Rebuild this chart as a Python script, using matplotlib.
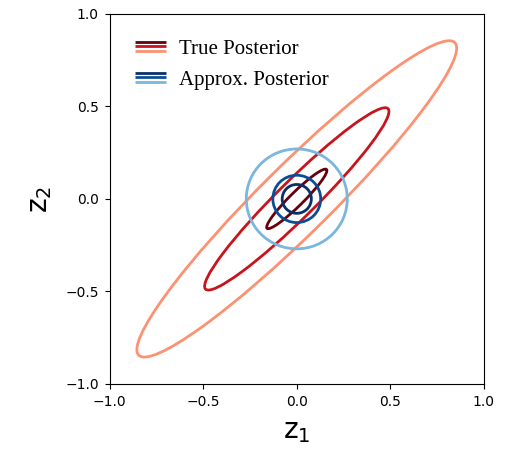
import numpy as np
import matplotlib.pyplot as plt
from matplotlib.patches import Ellipse, Circle
from matplotlib.lines import Line2D
from matplotlib.legend_handler import HandlerBase

# True posterior: correlated Gaussian contours (semi-major / semi-minor, angle 45 deg)
true_semi_major = [0.225, 0.69, 1.195]
true_semi_minor = [0.036, 0.10, 0.186]
true_colors = ['#67000d', '#c8141c', '#fc9272']

# Approximate posterior: isotropic Gaussian contours (radii)
approx_radii = [0.078, 0.128, 0.27]
approx_colors = ['#08306b', '#0b4d94', '#7bb6dc']

legend_labels = ['True Posterior', 'Approx. Posterior']


class ThreeLineHandler(HandlerBase):
    def __init__(self, colors):
        super().__init__()
        self.colors = colors

    def create_artists(self, legend, orig_handle, xdescent, ydescent,
                       width, height, fontsize, trans):
        artists = []
        gap = 3.4
        mid = height / 2 - ydescent
        for i, c in enumerate(self.colors):
            y = mid + gap * (1 - i)
            ln = Line2D([-xdescent, -xdescent + width], [y, y], color=c,
                        lw=2, transform=trans, solid_capstyle='butt')
            artists.append(ln)
        return artists


fig = plt.figure(figsize=(5.13, 4.5), dpi=100)
ax = fig.add_axes([0.214, 0.147, 0.729, 0.822])

for a, b, c in zip(true_semi_major, true_semi_minor, true_colors):
    ax.add_patch(Ellipse((0, 0), 2 * a, 2 * b, angle=45, fill=False,
                         edgecolor=c, lw=2))

for r, c in zip(approx_radii, approx_colors):
    ax.add_patch(Circle((0, 0), r, fill=False, edgecolor=c, lw=2))

ax.set_xlim(-1, 1)
ax.set_ylim(-1, 1)
ax.set_xticks([-1.0, -0.5, 0.0, 0.5, 1.0])
ax.set_yticks([-1.0, -0.5, 0.0, 0.5, 1.0])
ax.tick_params(labelsize=10, pad=4.5)
ax.set_xlabel('z$_1$', fontsize=20, labelpad=6)
ax.set_ylabel('z$_2$', fontsize=20, labelpad=8)

h1 = Line2D([], [])
h2 = Line2D([], [])
ax.legend([h1, h2], legend_labels,
          handler_map={h1: ThreeLineHandler(true_colors),
                       h2: ThreeLineHandler(approx_colors)},
          loc='upper left', frameon=False,
          prop={'family': 'Liberation Serif', 'size': 15},
          handlelength=1.5, handletextpad=0.6, labelspacing=0.55,
          borderaxespad=0.7, borderpad=0.5)

plt.savefig('out.png', dpi=100)
